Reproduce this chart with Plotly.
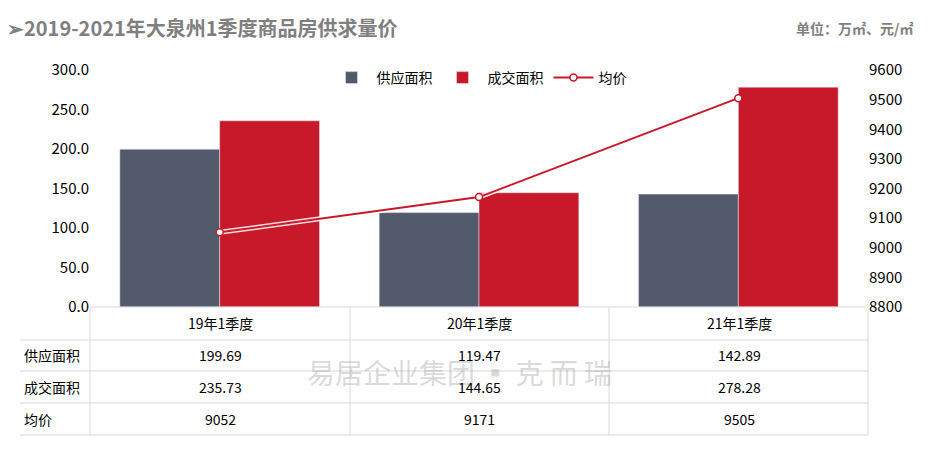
import plotly.graph_objects as go

quarters = ['19年1季度', '20年1季度', '21年1季度']
supply = [199.69, 119.47, 142.89]
deal = [235.73, 144.65, 278.28]
price = [9052, 9171, 9505]

# page has ~8px body margin, so work in reference pixels and shift
OFF = 8
W, H = 935 - 2 * OFF, 455 - 2 * OFF
L, R, T, B = 90, 868, 70, 307
def px(x): return (x - L) / (R - L)
def py(y): return (B - y) / (B - T)

fig = go.Figure()
fig.add_bar(x=quarters, y=supply, name='供应面积', marker_color='#525a6b')
fig.add_bar(x=quarters, y=deal, name='成交面积', marker_color='#c8192a')
# light halo so the red line stays visible over the red bars
fig.add_scatter(x=quarters, y=price, yaxis='y2', mode='lines', showlegend=False, hoverinfo='skip',
                line=dict(color='rgba(255,255,255,0.85)', width=5))
fig.add_scatter(x=quarters, y=price, name='均价', yaxis='y2', mode='lines+markers',
                line=dict(color='#c8192a', width=2),
                marker=dict(size=7, color='white', line=dict(color='#c8192a', width=1.5)))

shapes = []
grey = '#d9d9d9'
for yy in [340, 371, 403, 435]:
    shapes.append(dict(type='line', xref='paper', yref='paper', x0=px(20), x1=px(868),
                       y0=py(yy), y1=py(yy), line=dict(color=grey, width=1)))
shapes.append(dict(type='line', xref='paper', yref='paper', x0=px(90), x1=px(868),
                   y0=py(307), y1=py(307), line=dict(color=grey, width=1)))
for xx in [90, 350, 609, 868]:
    shapes.append(dict(type='line', xref='paper', yref='paper', x0=px(xx), x1=px(xx),
                       y0=py(307), y1=py(435), line=dict(color=grey, width=1)))

ann = []
centers = [220, 480, 739]
font = dict(family='Noto Sans CJK SC', size=14, color='#000')
rows = [('供应面积', [f'{v:.2f}' for v in supply], 355),
        ('成交面积', [f'{v:.2f}' for v in deal], 387),
        ('均价', [str(v) for v in price], 419)]

def txt(text, x, y, f, xa='center'):
    ann.append(dict(text=text, x=px(x), y=py(y), xref='paper', yref='paper',
                    xanchor=xa, yanchor='middle', showarrow=False, font=f))

txt('易居企业集团 ▪ 克 而 瑞', 305, 372, dict(family='Noto Sans CJK SC', size=28, color='rgba(150,150,150,0.35)'), 'left')
for c, q in zip(centers, quarters):
    txt(q, c, 323, font)
for label, vals, yy in rows:
    txt(label, 22, yy, font, 'left')
    for c, v in zip(centers, vals):
        txt(v, c, yy, font)
txt('➢2019-2021年大泉州1季度商品房供求量价', 5, 28,
    dict(family='Noto Sans CJK SC', size=20, color='#7f7f7f', weight='bold'), 'left')
txt('单位：万㎡、元/㎡', 915, 28,
    dict(family='Noto Sans CJK SC', size=14, color='#7f7f7f', weight='bold'), 'right')

fig.update_layout(
    width=W, height=H, margin=dict(l=L - OFF, r=935 - R - OFF, t=T - OFF, b=455 - B - OFF),
    paper_bgcolor='white', plot_bgcolor='white',
    barmode='group', bargap=0.23, bargroupgap=0,
    font=dict(family='Noto Sans CJK SC', size=15, color='#000'),
    xaxis=dict(showticklabels=False, showline=False, ticks=''),
    yaxis=dict(range=[0, 300], dtick=50, tickformat='.1f', showgrid=False, zeroline=False, ticks=''),
    yaxis2=dict(range=[8800, 9600], dtick=100, overlaying='y', side='right', showgrid=False, zeroline=False),
    legend=dict(orientation='h', x=0.5, xanchor='center', y=py(78), yanchor='middle',
                font=dict(size=14), traceorder='normal', itemwidth=40),
    shapes=shapes, annotations=ann,
)
fig.write_html('out.html')
